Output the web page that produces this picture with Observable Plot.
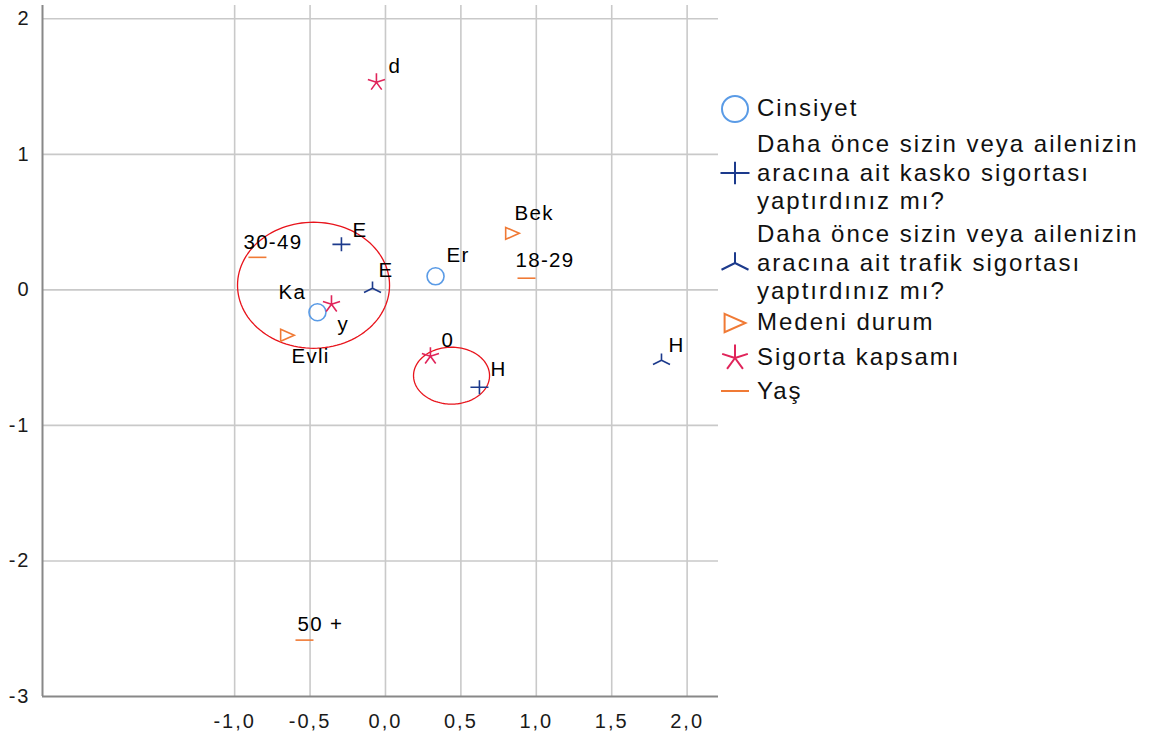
<!DOCTYPE html>
<html>
<head>
<meta charset="utf-8">
<script src="https://cdn.jsdelivr.net/npm/d3@7"></script>
<script src="https://cdn.jsdelivr.net/npm/@observablehq/plot@0.6"></script>
<style>
  body { margin: 0; background: #fff; font-family: "Liberation Sans", Arial, sans-serif; }
  #wrap { position: relative; width: 1149px; height: 740px; overflow: hidden; }
  #legend { position: absolute; left: 718px; top: 93.6px; display: flex; flex-direction: column; }
  .row { display: flex; align-items: center; }
  .row svg { flex: 0 0 34px; }
  .row .txt { margin-left: 5px; font-size: 24px; line-height: 28.7px; letter-spacing: 2px; color: #111; white-space: pre-line; }
</style>
</head>
<body>
<div id="wrap"></div>
<script>
// ---- data ----
const variables = [
  "Cinsiyet",
  "Daha önce sizin veya ailenizin\naracına ait kasko sigortası\nyaptırdınız mı?",
  "Daha önce sizin veya ailenizin\naracına ait trafik sigortası\nyaptırdınız mı?",
  "Medeni durum",
  "Sigorta kapsamı",
  "Yaş"
];
const categoryLabels = ["Er", "Ka", "E", "H", "E", "H", "Bek", "Evli", "d", "y", "0", "30-49", "18-29", "50 +"];
const categoryVariable = [0, 0, 1, 1, 2, 2, 3, 3, 4, 4, 4, 5, 5, 5];
const dimension1 = [0.332, -0.451, -0.292, 0.623, -0.086, 1.830, 0.842, -0.650, -0.060, -0.358, 0.298, -0.849, 0.935, -0.537];
const dimension2 = [0.100, -0.165, 0.336, -0.718, 0.012, -0.519, 0.417, -0.335, 1.531, -0.106, -0.490, 0.240, 0.086, -2.584];
const xTicks = [-1.0, -0.5, 0.0, 0.5, 1.0, 1.5, 2.0];
const yTicks = [-3, -2, -1, 0, 1, 2];
// annotation ellipses: centre x, centre y, radius x, radius y (data units)
const ellipseCx = [-0.477, 0.438];
const ellipseCy = [0.034, -0.633];
const ellipseRx = [0.504, 0.252];
const ellipseRy = [0.465, 0.210];

// ---- styles / layout ----
const colors = ["#5A9BE6", "#1C3A8C", "#1C3A8C", "#F07A35", "#E0245A", "#F07A35"];
const labelNudge = [[11,-21],[-39,-20],[11,-14],[11,-18],[6,-18],[7,-15],[2,-20],[4,21],[12,-16],[6,20],[11,-16],[-14,-15],[-11,-18],[-7,-16]];
const legendGap = [0, 6.3, 3.9, 1.5, 5.3, 3.3];

function mk(fn) { return { draw(ctx, size) { fn(ctx, Math.sqrt(size / Math.PI)); } }; }
const symCircle = mk((c, r) => { c.moveTo(r, 0); c.arc(0, 0, r, 0, 2 * Math.PI); });
const symPlus = mk((c, r) => { c.moveTo(-r, 0); c.lineTo(r, 0); c.moveTo(0, -0.78 * r); c.lineTo(0, 0.78 * r); });
const symTri = mk((c, r) => { c.moveTo(0, 0); c.lineTo(0, -0.8 * r); c.moveTo(0, 0); c.lineTo(-r, 0.5 * r); c.moveTo(0, 0); c.lineTo(r, 0.5 * r); });
const symRight = mk((c, r) => { c.moveTo(-0.8 * r, -0.7 * r); c.lineTo(0.8 * r, 0); c.lineTo(-0.8 * r, 0.7 * r); c.closePath(); });
const symStar = mk((c, r) => { for (let k = 0; k < 5; k++) { const a = -Math.PI / 2 + k * 2 * Math.PI / 5; c.moveTo(0, 0); c.lineTo(r * Math.cos(a), r * Math.sin(a)); } });
const symDash = mk((c, r) => { c.moveTo(-r, 0); c.lineTo(r, 0); });
const symbols = [symCircle, symPlus, symTri, symRight, symStar, symDash];
const plotR = [8.5, 9, 8.5, 8.5, 9, 9];
const legendR = [13, 14.5, 13.5, 13, 13.5, 14];

const points = categoryLabels.map((label, i) => ({ label, v: categoryVariable[i], x: dimension1[i], y: dimension2[i], i }));

const ellipses = ellipseCx.map((cx, k) => d3.range(0, 121).map(j => {
  const t = j / 120 * 2 * Math.PI;
  return { k, x: cx + ellipseRx[k] * Math.cos(t), y: ellipseCy[k] + ellipseRy[k] * Math.sin(t) };
}));

const marks = [
  Plot.gridX(xTicks, { stroke: "#c9c9c9", strokeOpacity: 1, strokeWidth: 1.6 }),
  Plot.gridY(yTicks.filter(d => d > -3), { stroke: "#c9c9c9", strokeOpacity: 1, strokeWidth: 1.6 }),
  Plot.ruleX([-2.274], { stroke: "#888", strokeWidth: 2 }),
  Plot.ruleY([-3], { stroke: "#888", strokeWidth: 2 }),
  Plot.axisY(yTicks, { anchor: "left", tickSize: 0, tickPadding: 12, fontSize: 20, color: "#1a1a1a", tickFormat: d => String(d), label: null }),
  Plot.axisX(xTicks, { anchor: "bottom", tickSize: 0, tickPadding: 17, fontSize: 20, color: "#1a1a1a", tickFormat: d => d.toFixed(1).replace(".", ","), label: null }),
  ...ellipses.map(e => Plot.line(e, { x: "x", y: "y", stroke: "#E8141C", strokeWidth: 1.3 }))
];
variables.forEach((name, v) => {
  marks.push(Plot.dot(points.filter(p => p.v === v), {
    x: "x", y: "y", symbol: symbols[v], r: plotR[v], fill: "none", stroke: colors[v], strokeWidth: 1.6
  }));
});
points.forEach((p, i) => {
  marks.push(Plot.text([p], {
    x: "x", y: "y", text: "label", textAnchor: "start", lineAnchor: "middle",
    dx: labelNudge[i][0], dy: labelNudge[i][1], fontSize: 20.5, fill: "#000"
  }));
});

const chart = Plot.plot({
  width: 1149, height: 740,
  marginLeft: 42, marginRight: 431, marginTop: 5, marginBottom: 44,
  style: { fontFamily: "Liberation Sans, Arial, sans-serif", background: "#fff" },
  x: { type: "linear", domain: [-2.274, 2.208] },
  y: { type: "linear", domain: [-3, 2.098] },
  marks
});
const wrap = document.getElementById("wrap");
wrap.appendChild(chart);

// letter spacing for tick labels and point labels
d3.select(chart).selectAll("text").each(function () {
  const g = this.closest("g[aria-label]");
  const lbl = g ? g.getAttribute("aria-label") : "";
  if (lbl.indexOf("tick label") >= 0) {
    this.style.letterSpacing = "2px";
    this.style.fontSize = "20px";
  } else {
    this.style.letterSpacing = "1.3px";
  }
});

// legend
const legend = document.createElement("div");
legend.id = "legend";
variables.forEach((name, v) => {
  const p = d3.path();
  symbols[v].draw(p, Math.PI * legendR[v] * legendR[v]);
  const row = document.createElement("div");
  row.className = "row";
  row.style.marginTop = legendGap[v] + "px";
  row.innerHTML = `<svg width="34" height="30" viewBox="-17 -15 34 30"><path d="${p}" fill="none" stroke="${colors[v]}" stroke-width="2"/></svg>`;
  const t = document.createElement("div");
  t.className = "txt";
  t.textContent = name;
  row.appendChild(t);
  legend.appendChild(row);
});
wrap.appendChild(legend);
</script>
</body>
</html>
